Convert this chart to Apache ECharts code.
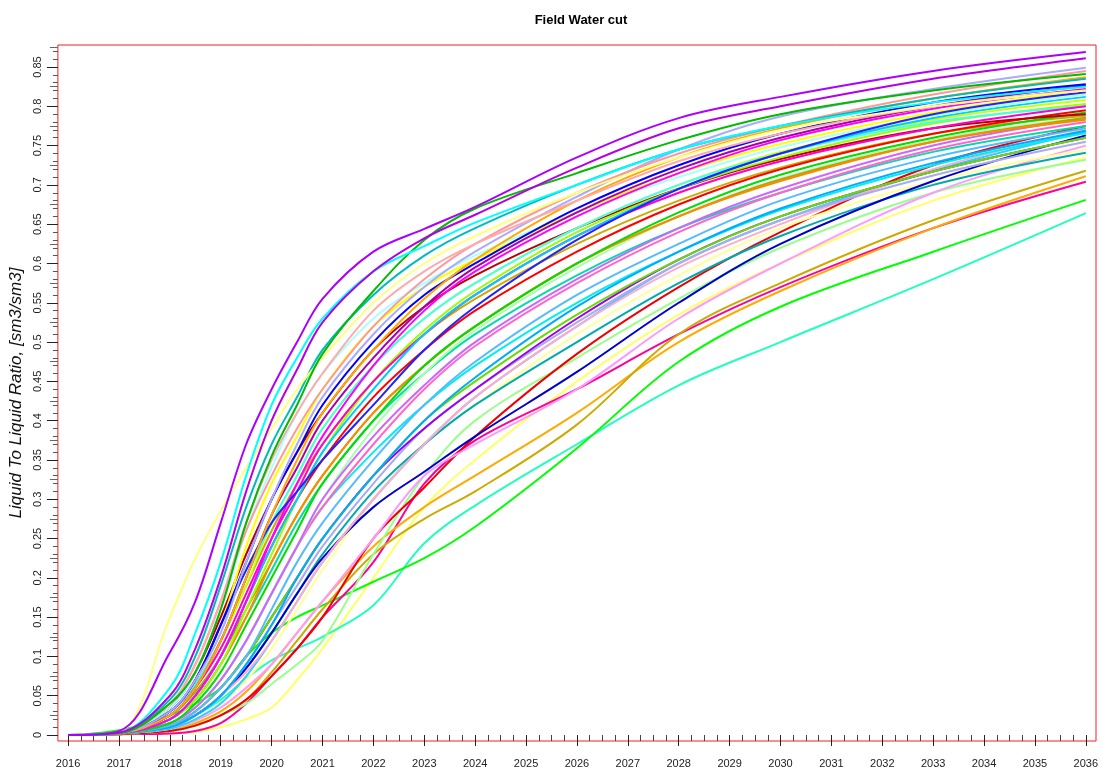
<!DOCTYPE html>
<html><head><meta charset="utf-8">
<script src="https://cdn.jsdelivr.net/npm/echarts@6/dist/echarts.min.js"></script>
<style>html,body{margin:0;padding:0;background:#fff}#c{width:1102px;height:773px}</style>
</head><body><div id="c"></div>
<script>
// sample times (decimal years)
const years = [2016, 2017, 2018, 2018.5, 2019, 2019.5, 2020, 2020.5, 2021, 2022, 2023, 2024, 2026, 2028, 2030, 2033, 2036];
// tick labels
const xTickYears = [2016,2017,2018,2019,2020,2021,2022,2023,2024,2025,2026,2027,2028,2029,2030,2031,2032,2033,2034,2035,2036];
const yTickValues = [0,0.05,0.1,0.15,0.2,0.25,0.3,0.35,0.4,0.45,0.5,0.55,0.6,0.65,0.7,0.75,0.8,0.85];

// water cut realisations
const w01 = [0,.005,.105,.17,.27,.37,.44,.50,.555,.615,.644,.672,.735,.785,.812,.845,.869];
const w02 = [0,.003,.05,.11,.2,.31,.4,.465,.525,.59,.632,.662,.722,.772,.8,.835,.861];
const w03 = [0,.003,.06,.13,.22,.33,.42,.48,.53,.59,.622,.652,.70,.745,.775,.805,.825];
const w04 = [0,.002,.04,.08,.16,.27,.355,.42,.485,.565,.63,.67,.715,.757,.79,.82,.841];
const w05 = [0,.004,.15,.225,.285,.34,.39,.44,.48,.55,.6,.635,.69,.735,.77,.8,.82];
const w06 = [0,.003,.045,.1,.19,.29,.37,.43,.49,.56,.61,.645,.70,.745,.775,.81,.835];
const w07 = [0,.002,.04,.09,.17,.26,.33,.39,.44,.52,.58,.625,.69,.74,.775,.815,.845];
const w08 = [0,.002,.03,.07,.13,.22,.3,.37,.43,.51,.57,.615,.685,.745,.787,.822,.849];
const w09 = [0,.002,.025,.06,.12,.2,.28,.35,.41,.49,.555,.605,.68,.735,.772,.81,.837];
const w10 = [0,.002,.03,.07,.14,.22,.30,.36,.42,.5,.56,.6,.67,.725,.765,.805,.828];
const w11 = [0,.002,.025,.06,.12,.2,.28,.34,.4,.48,.545,.595,.665,.72,.76,.8,.826];
const w12 = [0,.002,.02,.05,.1,.17,.25,.32,.38,.47,.54,.59,.66,.715,.757,.797,.822];
const w13 = [0,.002,.03,.07,.14,.24,.32,.38,.44,.52,.57,.605,.665,.715,.752,.792,.82];
const w14 = [0,.002,.035,.08,.16,.26,.34,.41,.46,.53,.575,.61,.665,.71,.748,.788,.815];
const w15 = [0,.002,.02,.05,.1,.17,.24,.3,.36,.44,.51,.56,.635,.695,.74,.785,.812];
const w16 = [0,.002,.025,.06,.12,.19,.27,.33,.39,.47,.53,.575,.645,.7,.742,.783,.808];
const w17 = [0,.002,.02,.045,.09,.16,.23,.3,.36,.45,.515,.565,.64,.695,.735,.778,.803];
const w18 = [0,.002,.035,.08,.15,.23,.3,.36,.41,.49,.545,.585,.645,.695,.733,.772,.79];
const w19 = [0,.002,.02,.05,.1,.17,.24,.3,.35,.43,.49,.54,.615,.675,.72,.765,.795];
const w20 = [0,.002,.015,.04,.08,.14,.2,.26,.32,.4,.47,.52,.6,.665,.713,.76,.792];
const w21 = [0,.002,.03,.065,.12,.19,.26,.32,.37,.45,.51,.555,.625,.68,.722,.765,.788];
const w22 = [0,.002,.015,.035,.07,.12,.18,.24,.3,.39,.46,.515,.595,.66,.708,.757,.786];
const w23 = [0,.002,.015,.035,.07,.12,.18,.24,.29,.37,.44,.495,.575,.64,.69,.745,.78];
const w24 = [0,.002,.02,.045,.09,.15,.21,.27,.32,.4,.46,.51,.585,.645,.69,.742,.775];
const w25 = [0,.002,.012,.03,.06,.1,.16,.22,.27,.35,.42,.475,.56,.625,.68,.735,.772];
const w26 = [0,.002,.01,.025,.05,.09,.14,.2,.25,.33,.4,.455,.545,.615,.67,.728,.769];
const w27 = [0,.002,.015,.035,.07,.12,.18,.24,.29,.36,.42,.47,.55,.615,.668,.725,.766];
const w28 = [0,.002,.01,.025,.05,.085,.13,.18,.225,.29,.335,.38,.462,.55,.625,.705,.763];
const w29 = [0,.002,.012,.03,.06,.1,.15,.2,.25,.33,.39,.44,.53,.605,.66,.717,.76];
const w30 = [0,.002,.01,.025,.05,.09,.14,.19,.24,.32,.39,.44,.525,.6,.655,.712,.755];
const w31 = [0,.002,.008,.018,.035,.06,.09,.13,.17,.25,.33,.37,.44,.53,.6,.69,.75];
const w32 = [0,.002,.008,.02,.04,.07,.11,.16,.21,.3,.37,.42,.51,.585,.645,.705,.745];
const w33 = [0,.002,.01,.025,.05,.085,.13,.18,.23,.31,.37,.42,.5,.575,.635,.7,.741];
const w34 = [0,.001,.005,.012,.025,.04,.065,.09,.12,.23,.33,.4,.48,.555,.62,.69,.732];
const w35 = [0,.001,.005,.012,.025,.045,.08,.12,.16,.23,.275,.31,.395,.51,.575,.655,.718];
const w36 = [0,.001,.006,.015,.03,.055,.09,.13,.17,.24,.29,.33,.41,.5,.565,.645,.711];
const w37 = [0,.001,.002,.005,.015,.04,.075,.11,.15,.22,.32,.375,.44,.51,.57,.645,.704];
const w38 = [0,.006,.025,.04,.06,.1,.13,.15,.165,.195,.225,.265,.365,.475,.545,.615,.681];
const w39 = [0,.003,.012,.025,.045,.072,.095,.11,.125,.165,.244,.292,.37,.445,.50,.58,.664];
const w40 = [0,.002,.02,.045,.09,.15,.22,.28,.33,.41,.47,.52,.6,.66,.705,.755,.783];
const w41 = [0,.002,.025,.06,.11,.18,.25,.31,.37,.45,.51,.56,.635,.69,.73,.772,.80];
const w42 = [0,.002,.008,.02,.04,.075,.12,.17,.22,.3,.37,.43,.52,.6,.655,.718,.768];
const w43 = [0,.001,.005,.012,.025,.045,.075,.11,.15,.25,.315,.38,.485,.57,.64,.725,.775];
const w44 = [0,.002,.025,.055,.1,.16,.22,.28,.33,.41,.47,.52,.6,.66,.707,.755,.785];
const w45 = [0,.002,.01,.025,.05,.08,.12,.17,.22,.3,.37,.43,.52,.595,.65,.72,.77];
const w46 = [0,.002,.03,.065,.12,.2,.27,.33,.39,.47,.53,.575,.645,.7,.74,.78,.80];
const w47 = [0,.002,.03,.07,.14,.21,.27,.31,.35,.42,.49,.545,.63,.695,.74,.79,.818];
const w48 = [0,.002,.04,.09,.17,.27,.35,.41,.46,.54,.59,.625,.68,.73,.765,.8,.82];
const w49 = [0,.002,.015,.035,.07,.12,.18,.24,.3,.38,.445,.5,.58,.645,.695,.75,.785];
const w50 = [0,.002,.012,.03,.06,.1,.15,.2,.25,.33,.4,.45,.535,.605,.66,.717,.76];
const w51 = [0,.001,.002,.004,.01,.02,.035,.07,.11,.2,.29,.35,.45,.535,.6,.68,.735];

const realisations = [w51,w39,w38,w37,w36,w35,w34,w43,w31,w32,w33,w28,w42,w45,w30,w29,w50,w27,w26,w25,w24,w23,w22,w49,w44,w40,w21,w20,w19,w18,w17,w16,w46,w41,w15,w14,w13,w12,w11,w47,w10,w09,w08,w07,w48,w06,w05,w04,w03,w02,w01];
const colors = ['#ffff66','#22ffbb','#00ff00','#ff0099','#ffaa00','#ccaa00','#99ff88','#ee0000','#ff99ff','#ffff99','#00aaaa','#0000cc','#33ccff','#ffaacc','#aaaaee','#9900ee','#66dd00','#00eeee','#00aaff','#55bbff','#00ddaa','#ff66cc','#aaffaa','#cc66ff','#aaaa00','#ff8800','#ccaa00','#00dd00','#ff0000','#bb0000','#99ff00','#ccff00','#44ffee','#ff00cc','#00ccff','#aaffff','#ffff00','#ff00ff','#aa00aa','#2222ff','#0000ff','#ffaa00','#aaaaff','#ff9999','#ffaaaa','#00bbbb','#ffff80','#00bb00','#00ffff','#b400e6','#aa00ff'];

const xMinor = []; for (let q = 2016; q <= 2036.001; q += 0.25) if (Math.abs(q - Math.round(q)) > 0.01) xMinor.push(q);
const yMinor = []; for (let k = 0; k <= 87; k++) if (k % 5 !== 0) yMinor.push(k / 100);
const yMid = yTickValues.map(v => v + 0.025).filter(v => v < 0.878);

const XMIN = 2015.8, XMAX = 2036.2, YMIN = -0.0076, YMAX = 0.878;
const lab = {fontFamily: 'Liberation Sans', fontSize: 11, color: '#222'};

const chart = echarts.init(document.getElementById('c'), null, {renderer: 'canvas'});
chart.setOption({
  animation: false,
  backgroundColor: '#fff',
  title: {text: 'Field Water cut', left: 576, top: 9, textAlign: 'center',
    textStyle: {fontFamily: 'Liberation Sans', fontSize: 13, fontWeight: 'bold', color: '#000'}},
  grid: {left: 57, right: 6, top: 45, bottom: 32, show: true, borderColor: '#ee2222', borderWidth: 1, backgroundColor: 'transparent'},
  xAxis: [
    {type: 'value', min: XMIN, max: XMAX, axisLine: {show: false}, splitLine: {show: false},
     axisTick: {show: true, customValues: xTickYears, length: 11, lineStyle: {color: '#222'}},
     axisLabel: {show: true, customValues: xTickYears, margin: 17, formatter: v => String(Math.round(v)), ...lab}},
    {type: 'value', min: XMIN, max: XMAX, position: 'bottom', axisLine: {show: false}, splitLine: {show: false},
     axisTick: {show: true, customValues: xMinor, length: 6, lineStyle: {color: '#444'}},
     axisLabel: {show: false}}
  ],
  yAxis: [
    {type: 'value', min: YMIN, max: YMAX, axisLine: {show: false}, splitLine: {show: false},
     name: 'Liquid To Liquid Ratio, [sm3/sm3]', nameLocation: 'middle', nameGap: 28, nameRotate: 90,
     nameTextStyle: {fontFamily: 'Liberation Sans', fontSize: 17, fontStyle: 'italic', color: '#111'},
     axisTick: {show: true, customValues: yTickValues, length: 11, lineStyle: {color: '#222'}},
     axisLabel: {show: true, customValues: yTickValues, rotate: 90, margin: 14, formatter: v => String(+v.toFixed(3)), ...lab}},
    {type: 'value', min: YMIN, max: YMAX, position: 'left', axisLine: {show: false}, splitLine: {show: false},
     axisTick: {show: true, customValues: yMinor, length: 5, lineStyle: {color: '#555'}}, axisLabel: {show: false}},
    {type: 'value', min: YMIN, max: YMAX, position: 'left', axisLine: {show: false}, splitLine: {show: false},
     axisTick: {show: true, customValues: yMid, length: 8, lineStyle: {color: '#666'}}, axisLabel: {show: false}}
  ],
  series: realisations.map((arr, i) => ({
    type: 'line', xAxisIndex: 0, yAxisIndex: 0, symbol: 'none', smooth: 0.35,
    lineStyle: {width: 2, color: colors[i]}, itemStyle: {color: colors[i]},
    data: years.map((t, j) => [t, arr[j]])
  }))
});
</script></body></html>
